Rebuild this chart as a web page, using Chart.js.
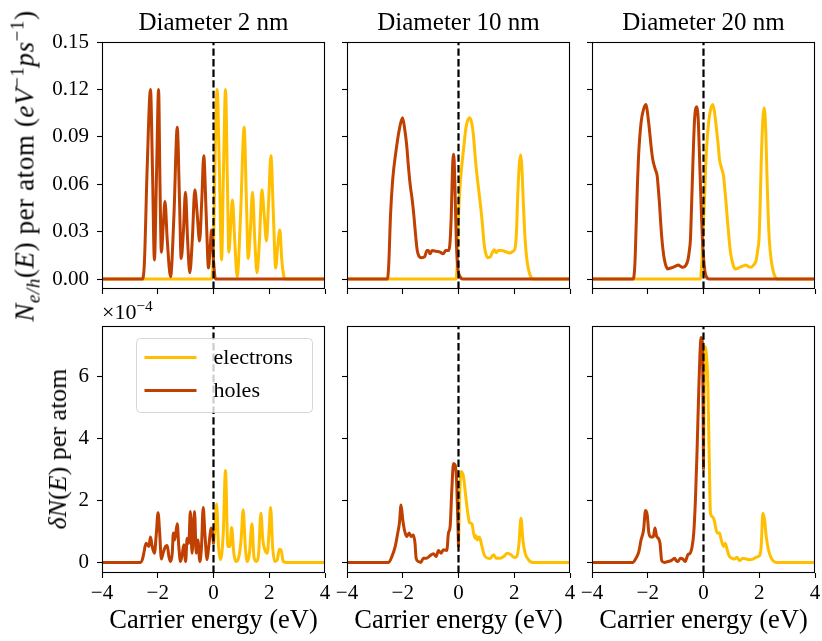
<!DOCTYPE html>
<html lang="en">
<head>
<meta charset="UTF-8" />
<title>Carrier distributions vs. diameter</title>
<script src="https://cdn.jsdelivr.net/npm/chart.js"></script>
<style>
  body { margin: 0; background: #fff; width: 822px; height: 641px; position: relative; overflow: hidden; font-family: "Liberation Serif", serif; color: #000; }
  canvas { position: absolute; }
  .txt { position: absolute; white-space: nowrap; line-height: 1; z-index: 5; }
  .title { font-size: 25px; transform: translateX(-50%); }
  .xlab { font-size: 26.5px; transform: translateX(-50%); }
  .ylab { font-size: 26px; transform: translate(-50%, -50%) rotate(-90deg); }
  .ylab.top { font-size: 27px; letter-spacing: 0.6px; }
  .offset { font-size: 22px; }
  sub, sup { font-size: 0.7em; line-height: 0; }
</style>
</head>
<body>
<script>
// ---- axes ----
const ENERGY_TICKS = [-4, -2, 0, 2, 4];
const N_TICKS = [0, 0.03, 0.06, 0.09, 0.12, 0.15];
const DN_TICKS = [0, 2, 4, 6];          // units of 1e-4
const N_RANGE = [-0.0063, 0.15];
const DN_RANGE = [-0.34, 7.64];
const ZERO_LINE = 0;
const titles = ["Diameter 2 nm", "Diameter 10 nm", "Diameter 20 nm"];
const seriesNames = ["electrons", "holes"];
const electronColor = "#ffbf00";
const holeColor = "#bf4000";

// ---- N_e/h(E), top row ----
const elecEnergy2nm = [-4, -0.06, 0.0, 0.06, 0.13, 0.21, 0.29, 0.36, 0.43, 0.50, 0.55, 0.62, 0.68, 0.76, 0.85, 0.97, 1.10, 1.18, 1.245, 1.32, 1.40, 1.48, 1.56, 1.65, 1.735, 1.82, 1.90, 1.98, 2.06, 2.15, 2.23, 2.30, 2.38, 2.45, 2.52, 2.56, 4];
const elecN2nm      = [0, 0, 0.02, 0.08, 0.12, 0.07, 0.012, 0.07, 0.12, 0.06, 0.017, 0.035, 0.05, 0.025, 0.0015, 0.04, 0.096, 0.05, 0.013, 0.03, 0.055, 0.025, 0.004, 0.025, 0.0565, 0.04, 0.024, 0.05, 0.078, 0.04, 0.007, 0.02, 0.031, 0.012, 0.002, 0, 0];
const holeEnergy2nm = [-4, -2.56, -2.48, -2.38, -2.26, -2.19, -2.12, -2.04, -1.97, -1.92, -1.87, -1.80, -1.74, -1.66, -1.54, -1.42, -1.30, -1.22, -1.16, -1.08, -1.005, -0.93, -0.85, -0.76, -0.67, -0.58, -0.50, -0.42, -0.35, -0.26, -0.18, -0.12, -0.07, 0.0, 0.07, 4];
const holeN2nm      = [0, 0, 0.01, 0.07, 0.12, 0.07, 0.012, 0.07, 0.12, 0.06, 0.017, 0.035, 0.049, 0.025, 0.0015, 0.04, 0.096, 0.05, 0.013, 0.03, 0.055, 0.025, 0.004, 0.025, 0.0565, 0.04, 0.024, 0.05, 0.078, 0.04, 0.007, 0.02, 0.031, 0.012, 0, 0];

const elecEnergy10nm = [-4, -0.09, -0.05, 0.0, 0.06, 0.12, 0.18, 0.27, 0.395, 0.47, 0.53, 0.62, 0.70, 0.754, 0.80, 0.84, 0.88, 0.92, 0.98, 1.04, 1.14, 1.22, 1.28, 1.35, 1.42, 1.55, 1.735, 1.85, 1.95, 2.03, 2.08, 2.13, 2.18, 2.23, 2.27, 2.31, 2.37, 2.43, 2.50, 2.58, 2.66, 4];
const elecN10nm      = [0, 0, 0.008, 0.04, 0.06, 0.072, 0.082, 0.096, 0.102, 0.099, 0.092, 0.073, 0.06, 0.052, 0.045, 0.038, 0.03, 0.022, 0.016, 0.0135, 0.014, 0.017, 0.0185, 0.0167, 0.018, 0.018, 0.017, 0.0165, 0.0175, 0.0195, 0.03, 0.055, 0.072, 0.0787, 0.072, 0.055, 0.031, 0.016, 0.007, 0.002, 0, 0];
const holeEnergy10nm = [-4, -2.55, -2.50, -2.44, -2.36, -2.25, -2.12, -2.01, -1.93, -1.855, -1.80, -1.735, -1.66, -1.60, -1.54, -1.48, -1.42, -1.32, -1.22, -1.13, -1.08, -1.02, -0.95, -0.80, -0.66, -0.55, -0.46, -0.36, -0.31, -0.26, -0.215, -0.17, -0.13, -0.08, -0.03, 0.06, 0.15, 4];
const holeN10nm      = [0, 0, 0.01, 0.04, 0.063, 0.08, 0.095, 0.102, 0.095, 0.084, 0.072, 0.06, 0.05, 0.04, 0.028, 0.018, 0.0145, 0.0135, 0.014, 0.018, 0.018, 0.016, 0.018, 0.0175, 0.017, 0.016, 0.018, 0.018, 0.022, 0.04, 0.07, 0.079, 0.06, 0.025, 0.008, 0.0015, 0, 0];

const elecEnergy20nm = [-4, -0.11, -0.05, 0.0, 0.036, 0.08, 0.13, 0.19, 0.25, 0.335, 0.40, 0.455, 0.52, 0.575, 0.65, 0.72, 0.77, 0.81, 0.86, 0.91, 0.96, 1.02, 1.08, 1.14, 1.25, 1.35, 1.45, 1.51, 1.60, 1.68, 1.78, 1.89, 1.95, 1.99, 2.03, 2.07, 2.13, 2.18, 2.21, 2.24, 2.27, 2.31, 2.36, 2.43, 2.50, 2.58, 2.65, 4];
const elecN20nm      = [0, 0, 0.014, 0.035, 0.052, 0.072, 0.088, 0.1, 0.107, 0.1105, 0.105, 0.0967, 0.086, 0.0756, 0.07, 0.065, 0.056, 0.048, 0.037, 0.027, 0.018, 0.012, 0.008, 0.0064, 0.007, 0.0078, 0.0085, 0.0089, 0.008, 0.0074, 0.0085, 0.012, 0.019, 0.0248, 0.045, 0.0734, 0.101, 0.1084, 0.103, 0.09, 0.07, 0.046, 0.025, 0.012, 0.005, 0.001, 0, 0];
const holeEnergy20nm = [-4, -2.52, -2.46, -2.42, -2.37, -2.33, -2.24, -2.14, -2.06, -2.00, -1.94, -1.88, -1.82, -1.74, -1.66, -1.62, -1.58, -1.54, -1.50, -1.45, -1.40, -1.34, -1.28, -1.18, -1.10, -1.00, -0.90, -0.82, -0.74, -0.64, -0.56, -0.50, -0.47, -0.43, -0.38, -0.32, -0.24, -0.20, -0.17, -0.13, -0.084, -0.04, 0.0, 0.05, 0.10, 0.20, 4];
const holeN20nm      = [0, 0, 0.01, 0.031, 0.06, 0.0777, 0.099, 0.108, 0.1105, 0.104, 0.0946, 0.084, 0.0756, 0.07, 0.065, 0.057, 0.048, 0.037, 0.027, 0.018, 0.012, 0.008, 0.0064, 0.007, 0.0074, 0.0082, 0.0089, 0.008, 0.0074, 0.0085, 0.012, 0.019, 0.0248, 0.045, 0.0734, 0.101, 0.109, 0.104, 0.0925, 0.07, 0.046, 0.026, 0.014, 0.005, 0.0015, 0, 0];

// ---- deltaN(E), bottom row, units of 1e-4 ----
const elecDEnergy2nm = [0, 0.04, 0.11, 0.18, 0.25, 0.35, 0.43, 0.515, 0.59, 0.65, 0.73, 0.81, 0.91, 0.99, 1.065, 1.14, 1.21, 1.29, 1.38, 1.45, 1.53, 1.62, 1.70, 1.77, 1.84, 1.93, 1.99, 2.05, 2.12, 2.20, 2.29, 2.36, 2.43, 2.50, 2.65, 4];
const elecDN2nm      = [0.6, 0.95, 1.89, 0.52, 0.09, 0.95, 2.97, 0.52, 0.52, 1.13, 0.3, 0.03, 0.19, 0.73, 1.70, 0.52, 0.03, 0.3, 1.25, 0.19, 0.03, 0.3, 1.59, 0.73, 0.41, 0.3, 0.95, 1.78, 0.52, 0.03, 0.09, 0.43, 0.39, 0.03, 0, 0];
const holeDEnergy2nm = [-4, -2.62, -2.55, -2.50, -2.42, -2.32, -2.26, -2.20, -2.12, -2.05, -1.99, -1.93, -1.87, -1.81, -1.72, -1.66, -1.60, -1.54, -1.48, -1.44, -1.39, -1.30, -1.245, -1.185, -1.125, -1.065, -1.0, -0.945, -0.885, -0.83, -0.77, -0.68, -0.62, -0.56, -0.49, -0.43, -0.37, -0.31, -0.23, -0.17, -0.08, -0.035, 0];
const holeDN2nm      = [0, 0, 0.1, 0.3, 0.62, 0.52, 0.82, 0.52, 0.3, 0.95, 1.61, 0.95, 0.11, 0.3, 0.52, 0.55, 0.19, 0.03, 0.3, 0.95, 0.73, 1.25, 0.52, 0.03, 0.25, 0.57, 0.03, 0.78, 0.62, 1.65, 0.3, 1.65, 0.3, 0.73, 0.03, 0.52, 1.78, 0.95, 0.09, 0.52, 1.11, 0.95, 0.6];

const elecDEnergy10nm = [0, 0.036, 0.096, 0.18, 0.26, 0.335, 0.395, 0.48, 0.54, 0.60, 0.63, 0.68, 0.75, 0.84, 0.92, 1.04, 1.14, 1.26, 1.35, 1.50, 1.62, 1.76, 1.88, 2.0, 2.09, 2.17, 2.24, 2.31, 2.39, 2.51, 2.69, 4];
const elecDN10nm      = [0.5, 2.02, 2.94, 2.77, 2.13, 1.59, 1.29, 1.25, 0.95, 0.78, 0.86, 0.73, 0.82, 0.52, 0.25, 0.14, 0.13, 0.25, 0.14, 0.14, 0.19, 0.30, 0.25, 0.16, 0.19, 0.62, 1.43, 0.73, 0.3, 0.09, 0, 0];
const holeDEnergy10nm = [-4, -2.51, -2.39, -2.27, -2.18, -2.12, -2.06, -2.0, -1.94, -1.86, -1.77, -1.70, -1.62, -1.56, -1.52, -1.44, -1.35, -1.26, -1.14, -1.02, -0.90, -0.80, -0.72, -0.63, -0.54, -0.42, -0.36, -0.30, -0.24, -0.18, -0.12, -0.06, 0];
const holeDN10nm      = [0, 0, 0.19, 0.52, 0.95, 1.27, 1.86, 1.38, 1.05, 0.84, 0.95, 0.84, 0.89, 0.62, 0.14, 0.03, 0.0, 0.14, 0.14, 0.22, 0.28, 0.19, 0.39, 0.3, 0.41, 0.39, 0.95, 1.16, 2.34, 3.2, 3.15, 2.45, 0.5];

const elecDEnergy20nm = [0, 0.036, 0.06, 0.12, 0.156, 0.20, 0.25, 0.32, 0.395, 0.455, 0.515, 0.575, 0.634, 0.72, 0.78, 0.85, 0.93, 1.02, 1.11, 1.20, 1.29, 1.41, 1.53, 1.65, 1.77, 1.89, 2.01, 2.07, 2.13, 2.19, 2.25, 2.33, 2.43, 2.61, 4];
const elecDN20nm      = [3.0, 6.32, 6.97, 6.5, 5.78, 3.63, 1.59, 1.48, 1.32, 1.05, 0.95, 0.95, 0.73, 0.52, 0.62, 0.41, 0.19, 0.14, 0.11, 0.17, 0.06, 0.14, 0.11, 0.09, 0.11, 0.17, 0.22, 0.52, 1.59, 1.38, 0.84, 0.41, 0.14, 0, 0];
const holeDEnergy20nm = [-4, -2.54, -2.42, -2.32, -2.24, -2.15, -2.08, -2.02, -1.96, -1.88, -1.80, -1.74, -1.68, -1.62, -1.56, -1.50, -1.40, -1.28, -1.16, -1.04, -0.98, -0.92, -0.83, -0.74, -0.66, -0.56, -0.48, -0.42, -0.35, -0.29, -0.23, -0.18, -0.12, -0.084, -0.036, 0];
const holeDN20nm      = [0, 0, 0.14, 0.35, 0.73, 1.05, 1.68, 1.54, 0.95, 0.82, 0.84, 1.11, 0.84, 0.78, 0.62, 0.06, 0, 0.03, 0.06, 0.14, 0.06, 0.03, 0.14, 0.11, 0.03, 0.25, 0.30, 0.46, 0.95, 2.02, 3.63, 5.25, 6.86, 7.27, 7.08, 3.0];

// ---- layout (page pixels) ----
const PLOT_LEFT = [102, 347, 592], PLOT_W = 223;
const PLOT_TOP = [42, 326], PLOT_H = 247;
const AXIS_W = 60, AXIS_H = 44, PAD_TOP = 24, PAD_RIGHT = 14;
const FONT = "'Liberation Serif', serif";

const pts = (xs, ys) => xs.map((x, i) => ({ x, y: ys[i] }));
const minus = v => (v < 0 ? "\u2212" + Math.abs(v) : String(v));

const zeroLinePlugin = {
  id: "zeroLine",
  afterDatasetsDraw(chart) {
    const { ctx, chartArea: a, scales } = chart;
    const x = scales.x.getPixelForValue(ZERO_LINE);
    ctx.save();
    ctx.strokeStyle = "#000";
    ctx.lineWidth = 2.2;
    ctx.setLineDash([7.4, 3.2]);
    ctx.beginPath();
    ctx.moveTo(x, a.bottom);
    ctx.lineTo(x, a.top);
    ctx.stroke();
    ctx.restore();
  }
};

const framePlugin = {
  id: "frame",
  afterDatasetsDraw(chart) {
    const { ctx, chartArea: a } = chart;
    ctx.save();
    ctx.strokeStyle = "#000";
    ctx.lineWidth = 1.1;
    ctx.strokeRect(Math.round(a.left) + 0.5, Math.round(a.top) + 0.5, Math.round(a.width) - 1, Math.round(a.height) - 1);
    ctx.restore();
  }
};

const legendPlugin = {
  id: "boxLegend",
  afterDatasetsDraw(chart) {
    const { ctx, chartArea: a } = chart;
    const x0 = a.left + 34.5, y0 = a.top + 12.5, w = 176, h = 74;
    ctx.save();
    ctx.beginPath();
    ctx.roundRect(x0, y0, w, h, 4);
    ctx.fillStyle = "rgba(255,255,255,0.8)";
    ctx.fill();
    ctx.strokeStyle = "rgba(204,204,204,0.8)";
    ctx.lineWidth = 1;
    ctx.stroke();
    ctx.font = "22px " + FONT;
    ctx.textBaseline = "middle";
    chart.data.datasets.forEach((ds, i) => {
      const y = y0 + 19 + i * 33;
      ctx.strokeStyle = ds.borderColor;
      ctx.lineWidth = 3;
      ctx.beginPath();
      ctx.moveTo(x0 + 8, y);
      ctx.lineTo(x0 + 60, y);
      ctx.stroke();
      ctx.fillStyle = "#000";
      ctx.fillText(ds.label, x0 + 77, y + 1);
    });
    ctx.restore();
  }
};

function makePanel(row, col, elec, hole) {
  const cv = document.createElement("canvas");
  cv.width = PLOT_W + AXIS_W + PAD_RIGHT;
  cv.height = PLOT_H + PAD_TOP + AXIS_H;
  cv.style.left = (PLOT_LEFT[col] - AXIS_W) + "px";
  cv.style.top = (PLOT_TOP[row] - PAD_TOP) + "px";
  document.body.appendChild(cv);

  const yTicks = row === 0 ? N_TICKS : DN_TICKS;
  const yRange = row === 0 ? N_RANGE : DN_RANGE;
  const line = { pointRadius: 0, borderWidth: 3, cubicInterpolationMode: "monotone", fill: false };

  new Chart(cv, {
    type: "line",
    data: {
      datasets: [
        Object.assign({ label: seriesNames[0], data: pts(elec[0], elec[1]), borderColor: electronColor, order: 1 }, line),
        Object.assign({ label: seriesNames[1], data: pts(hole[0], hole[1]), borderColor: holeColor, order: 0 }, line)
      ]
    },
    options: {
      responsive: false,
      animation: false,
      events: [],
      layout: { padding: { top: PAD_TOP, right: PAD_RIGHT, left: 0, bottom: 0 } },
      plugins: { legend: { display: false }, tooltip: { enabled: false } },
      scales: {
        x: {
          type: "linear",
          min: -4,
          max: 4,
          afterBuildTicks: s => { s.ticks = ENERGY_TICKS.map(v => ({ value: v })); },
          afterFit: s => { s.height = AXIS_H; },
          border: { display: false },
          grid: { drawOnChartArea: false, drawTicks: true, tickLength: 5, tickColor: "#000", tickWidth: 1.1 },
          ticks: { display: row === 1, autoSkip: false, maxRotation: 0, padding: 3, color: "#000", font: { family: FONT, size: 21 }, callback: v => minus(v) }
        },
        y: {
          type: "linear",
          min: yRange[0],
          max: yRange[1],
          afterBuildTicks: s => { s.ticks = yTicks.map(v => ({ value: v })); },
          afterFit: s => { s.width = AXIS_W; },
          border: { display: false },
          grid: { drawOnChartArea: false, drawTicks: true, tickLength: 5, tickColor: "#000", tickWidth: 1.1 },
          ticks: { display: col === 0, autoSkip: false, padding: 8, color: "#000", font: { family: FONT, size: 21 },
            callback: v => (row === 0 ? v.toFixed(2) : String(v)) }
        }
      }
    },
    plugins: [zeroLinePlugin, framePlugin].concat(row === 1 && col === 0 ? [legendPlugin] : [])
  });
}

makePanel(0, 0, [elecEnergy2nm, elecN2nm], [holeEnergy2nm, holeN2nm]);
makePanel(0, 1, [elecEnergy10nm, elecN10nm], [holeEnergy10nm, holeN10nm]);
makePanel(0, 2, [elecEnergy20nm, elecN20nm], [holeEnergy20nm, holeN20nm]);
makePanel(1, 0, [elecDEnergy2nm, elecDN2nm], [holeDEnergy2nm, holeDN2nm]);
makePanel(1, 1, [elecDEnergy10nm, elecDN10nm], [holeDEnergy10nm, holeDN10nm]);
makePanel(1, 2, [elecDEnergy20nm, elecDN20nm], [holeDEnergy20nm, holeDN20nm]);

// ---- text ----
function addText(cls, html, left, top) {
  const d = document.createElement("div");
  d.className = "txt " + cls;
  d.innerHTML = html;
  d.style.left = left + "px";
  d.style.top = top + "px";
  document.body.appendChild(d);
}
titles.forEach((t, c) => {
  addText("title", t, PLOT_LEFT[c] + PLOT_W / 2, 9);
  addText("xlab", "Carrier energy (eV)", PLOT_LEFT[c] + PLOT_W / 2, 606);
});
addText("ylab top", "<i>N</i><sub><i>e/h</i></sub>(<i>E</i>) per atom (<i>eV</i><sup>\u22121</sup><i>ps</i><sup>\u22121</sup>)", 25, 166);
addText("ylab", "<i>\u03b4N</i>(<i>E</i>) per atom", 58, 449);
addText("offset", "\u00d710<sup>\u22124</sup>", 102, 301);
</script>
</body>
</html>
